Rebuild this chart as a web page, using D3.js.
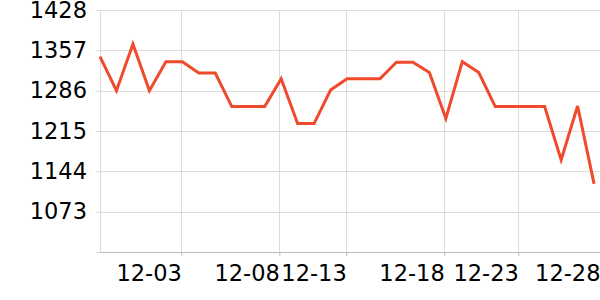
<!DOCTYPE html>
<html>
<head>
<meta charset="utf-8">
<script src="https://cdn.jsdelivr.net/npm/d3@7"></script>
<style>
  body { margin: 0; background: #fff; }
  text { font-family: "DejaVu Sans", sans-serif; }
</style>
</head>
<body>
<script>
// DATA
var values = [1346, 1286, 1368, 1286, 1337, 1337, 1317, 1317, 1258, 1258, 1258, 1307,
  1228, 1228, 1287, 1307, 1307, 1307, 1336, 1336, 1318, 1237, 1337, 1318, 1258, 1258,
  1258, 1258, 1164, 1259, 1122];
var yTicks = [1073, 1144, 1215, 1286, 1357, 1428];
var xTickLabels = ['12-03', '12-08', '12-13', '12-18', '12-23', '12-28'];
var xTickIndex = [4.94, 10.89, 14.95, 20.9, 25.4, 30.36]; // where the ticks sit, in point index

var width = 600;
var height = 300;
var margin = { top: 10, right: 0, bottom: 48, left: 100 };

var svg = d3.select('body').append('svg')
  .attr('width', width)
  .attr('height', height);

var x = d3.scaleLinear()
  .domain([0, 30.36])
  .range([margin.left, width - margin.right]);

var y = d3.scaleLinear()
  .domain([1002, 1428])
  .range([height - margin.bottom, margin.top]);

// grid
svg.append('g')
  .selectAll('line')
  .data(yTicks)
  .enter()
  .append('line')
  .attr('x1', margin.left)
  .attr('x2', width - margin.right)
  .attr('y1', function(d) { return Math.round(y(d)) + 0.5; })
  .attr('y2', function(d) { return Math.round(y(d)) + 0.5; })
  .attr('stroke', '#dcdcdc');

svg.append('g')
  .selectAll('line')
  .data(xTickIndex)
  .enter()
  .append('line')
  .attr('x1', function(d) { return Math.round(x(d)) + 0.5; })
  .attr('x2', function(d) { return Math.round(x(d)) + 0.5; })
  .attr('y1', margin.top)
  .attr('y2', height - margin.bottom)
  .attr('stroke', '#dcdcdc');

// y axis (left edge line + tick stubs)
var yAxis = svg.append('g')
  .attr('transform', 'translate(' + margin.left + ',0)')
  .call(d3.axisLeft(y).tickValues(yTicks).tickFormat(d3.format('d')).tickSize(4).tickPadding(9));
yAxis.select('.domain').attr('stroke', '#dcdcdc');
yAxis.selectAll('.tick line').attr('stroke', '#dcdcdc');
yAxis.selectAll('text')
  .attr('fill', '#000')
  .style('font-size', '22.5px')
  .style('font-family', '"DejaVu Sans", sans-serif');

// x axis
var xAxis = svg.append('g')
  .attr('transform', 'translate(0,' + (height - margin.bottom) + ')')
  .call(d3.axisBottom(x)
    .tickValues(xTickIndex)
    .tickFormat(function(d, i) { return xTickLabels[i]; })
    .tickSize(4)
    .tickSizeOuter(0)
    .tickPadding(9));
xAxis.select('.domain').attr('stroke', '#bbb');
xAxis.selectAll('.tick line').attr('stroke', '#bbb');
xAxis.selectAll('text')
  .attr('fill', '#000')
  .attr('text-anchor', 'end')
  .style('font-size', '22.5px')
  .style('font-family', '"DejaVu Sans", sans-serif');

// line
var line = d3.line()
  .x(function(d, i) { return x(i); })
  .y(function(d) { return y(d); });

svg.append('path')
  .datum(values)
  .attr('d', line)
  .attr('fill', 'none')
  .attr('stroke', '#ef4a2b')
  .attr('stroke-width', 3)
  .attr('stroke-linejoin', 'miter');
</script>
</body>
</html>
